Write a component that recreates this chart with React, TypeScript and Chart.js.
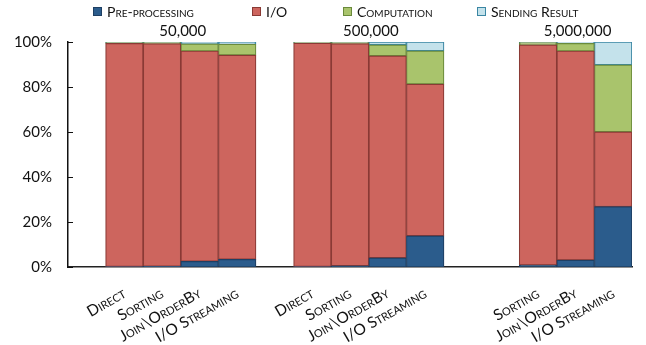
import { useEffect, useRef } from "react";
import { Chart, registerables } from "chart.js";

Chart.register(...registerables);

// Category slots: empty strings are spacer slots between the input-size groups
const categories = [
  "", "Direct", "Sorting", "Join\\OrderBy", "I/O Streaming",
  "", "Direct", "Sorting", "Join\\OrderBy", "I/O Streaming",
  "", "", "Sorting", "Join\\OrderBy", "I/O Streaming",
];

// Share of total time (%) per phase
const preProcessing = [null, 0.2, 0.3, 2.5, 3.4, null, 0.2, 0.5, 4.1, 13.8, null, null, 0.8, 3.1, 26.8];
const io = [null, 99.2, 99.0, 93.5, 90.8, null, 99.3, 98.8, 89.7, 67.5, null, null, 97.9, 92.9, 33.3];
const computation = [null, 0.3, 0.4, 3.2, 4.8, null, 0.2, 0.4, 4.9, 14.8, null, null, 1.0, 3.4, 29.7];
const sendingResult = [null, 0.3, 0.3, 0.8, 1.0, null, 0.3, 0.3, 1.3, 3.9, null, null, 0.3, 0.6, 10.2];

// Input sizes and the slot range each group covers
const inputSizes = ["50,000", "500,000", "5,000,000"];
const groupFirst = [1, 6, 12];
const groupLast = [4, 9, 14];

const yTicks = [0, 20, 40, 60, 80, 100];

const FONT = "Lato, 'Open Sans', sans-serif";

const series = [
  { label: "Pre-processing", data: preProcessing, fill: "#2B5C8C", stroke: "#1E3F63" },
  { label: "I/O", data: io, fill: "#CD655E", stroke: "#8A3A35" },
  { label: "Computation", data: computation, fill: "#A9C46C", stroke: "#6A8A3B" },
  { label: "Sending Result", data: sendingResult, fill: "#C4E2EB", stroke: "#3A86A3" },
];

const legendX = [93, 252, 343, 477];

const overlay = {
  id: "overlay",
  afterDraw(chart: any) {
    const { ctx, chartArea, scales } = chart;
    const xs = scales.x;
    const ys = scales.y;
    ctx.save();

    // tick marks pointing into the plot
    ctx.strokeStyle = "#111";
    ctx.lineWidth = 1;
    yTicks.forEach((v) => {
      const py = Math.round(ys.getPixelForValue(v)) + 0.5;
      ctx.beginPath();
      ctx.moveTo(chartArea.left, py);
      ctx.lineTo(chartArea.left + 5, py);
      ctx.stroke();
    });

    // group headings
    ctx.font = `15px ${FONT}`;
    ctx.fillStyle = "#111";
    ctx.textAlign = "center";
    ctx.textBaseline = "middle";
    inputSizes.forEach((s, i) => {
      const cx = (xs.getPixelForValue(groupFirst[i]) + xs.getPixelForValue(groupLast[i])) / 2 + 2;
      ctx.fillText(s, cx, chartArea.top - 11);
    });

    // legend
    ctx.font = `small-caps 14px ${FONT}`;
    ctx.textAlign = "left";
    series.forEach((s, i) => {
      const bx = legendX[i];
      ctx.fillStyle = s.fill;
      ctx.fillRect(bx, 7, 8, 8);
      ctx.strokeStyle = s.stroke;
      ctx.strokeRect(bx + 0.5, 7.5, 8, 8);
      ctx.fillStyle = "#111";
      ctx.fillText(s.label, bx + 14, 12);
    });

    ctx.restore();
  },
};

export default function App() {
  const canvasRef = useRef<HTMLCanvasElement | null>(null);

  useEffect(() => {
    if (!canvasRef.current) return;
    const chart = new Chart(canvasRef.current, {
      type: "bar",
      data: {
        labels: categories,
        datasets: series.map((s) => ({
          label: s.label,
          data: s.data as any,
          backgroundColor: s.fill,
          borderColor: s.stroke,
          borderWidth: 1.2,
          borderSkipped: false,
          barPercentage: 1,
          categoryPercentage: 1,
        })),
      },
      options: {
        responsive: false,
        animation: false,
        devicePixelRatio: 1,
        layout: { padding: { top: 42, right: 14, bottom: 0, left: 0 } },
        plugins: {
          legend: { display: false },
          tooltip: { enabled: false },
        },
        scales: {
          x: {
            stacked: true,
            grid: { display: false, drawTicks: false },
            border: { display: true, color: "#222", width: 1.5 },
            ticks: {
              autoSkip: false,
              minRotation: 30,
              maxRotation: 30,
              padding: 17,
              color: "#111",
              font: { family: FONT, size: 15.5, weight: "small-caps" as any },
            },
            afterFit(scale: any) {
              scale.height = 78;
            },
          },
          y: {
            stacked: true,
            min: 0,
            max: 100,
            grid: { display: false, drawTicks: false },
            border: { display: true, color: "#111", width: 1.5 },
            ticks: {
              stepSize: 20,
              padding: 16,
              color: "#111",
              font: { family: FONT, size: 15 },
              callback: (v: any) => `${v}%`,
            },
            afterFit(scale: any) {
              scale.width = 68;
            },
          },
        },
      },
      plugins: [overlay],
    });
    return () => chart.destroy();
  }, []);

  return (
    <div style={{ position: "fixed", left: 0, top: 0, width: 646, height: 345, background: "#fff" }}>
      <canvas ref={canvasRef} width={646} height={345} />
    </div>
  );
}
